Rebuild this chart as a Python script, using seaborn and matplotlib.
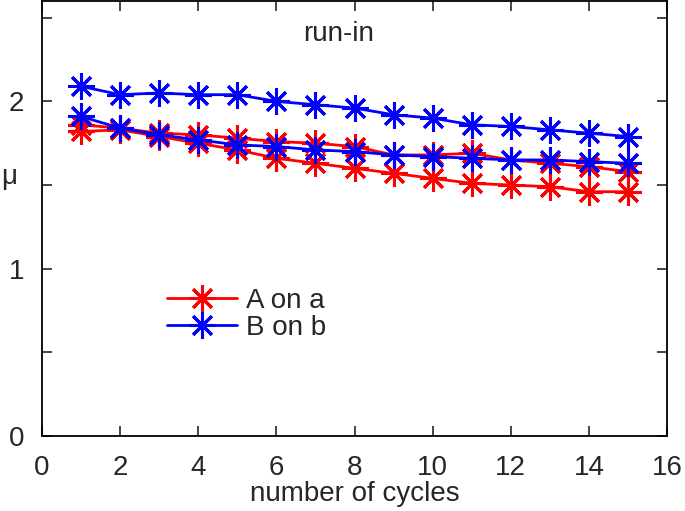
import seaborn as sns
import matplotlib.pyplot as plt
import pandas as pd

# --- data ---
cycles = list(range(1, 16))
red_upper = [1.86, 1.84, 1.81, 1.80, 1.78, 1.76, 1.75, 1.73, 1.68, 1.68, 1.69, 1.65, 1.63, 1.61, 1.58]
red_lower = [1.82, 1.83, 1.79, 1.75, 1.71, 1.66, 1.63, 1.60, 1.57, 1.54, 1.51, 1.50, 1.49, 1.46, 1.46]
blue_upper = [2.09, 2.04, 2.05, 2.04, 2.04, 2.00, 1.98, 1.96, 1.92, 1.90, 1.86, 1.85, 1.83, 1.81, 1.79]
blue_lower = [1.91, 1.84, 1.80, 1.77, 1.74, 1.73, 1.71, 1.70, 1.68, 1.67, 1.66, 1.65, 1.65, 1.64, 1.63]

series = {
    ("A on a", 1): red_upper,
    ("A on a", 2): red_lower,
    ("B on b", 1): blue_upper,
    ("B on b", 2): blue_lower,
}
rows = []
for (pair, run), vals in series.items():
    for c, v in zip(cycles, vals):
        rows.append({"cycle": c, "mu": v, "pair": pair, "run": run})
df = pd.DataFrame(rows)

sns.set_style("ticks")
plt.rcParams["font.family"] = ["Liberation Sans", "DejaVu Sans"]
FS = 20

fig = plt.figure(figsize=(6.85, 5.11), dpi=100)
ax = fig.add_axes([42 / 685, 75 / 511, 625 / 685, 435 / 511])

palette = {"A on a": "#ff0000", "B on b": "#0000ff"}
star = (8, 2, 0)  # gnuplot-like "*" (plus + cross)
for (pair, run), sub in df.groupby(["pair", "run"]):
    c = palette[pair]
    sns.lineplot(data=sub, x="cycle", y="mu", color=c, ax=ax,
                 marker=star, markersize=19, markeredgewidth=2.2,
                 markeredgecolor=c, markerfacecolor=c, linewidth=2,
                 label=pair if run == 1 else None, legend=False)

ax.set_xlim(0, 16)
ax.set_ylim(0, 2.6)
ax.set_xticks(range(0, 17, 2))
ax.set_yticks([0, 1, 2])
ax.set_yticks([0.5, 1.5, 2.5], minor=True)
ax.tick_params(which="both", direction="in", top=True, right=True,
               labelsize=FS, width=1.2, length=7)
ax.tick_params(axis="x", which="both", pad=14)
ax.tick_params(axis="y", which="both", pad=13)
for s in ax.spines.values():
    s.set_linewidth(1.3)
    s.set_color("black")

ax.set_xlabel("number of cycles", fontsize=FS, labelpad=0)
ax.set_ylabel("")
fig.text(0.002, 1 - 177 / 511, "\u03bc", fontsize=FS, ha="left", va="center")
ax.text(0.475, 0.925, "run-in", transform=ax.transAxes, ha="center", va="center", fontsize=FS)

ax.legend(loc="center left", bbox_to_anchor=(0.178, 0.28), frameon=False,
          fontsize=FS, numpoints=1, handlelength=2.5, handletextpad=0.35,
          labelspacing=0.05, borderpad=0)

fig.savefig("out.png", dpi=100)
